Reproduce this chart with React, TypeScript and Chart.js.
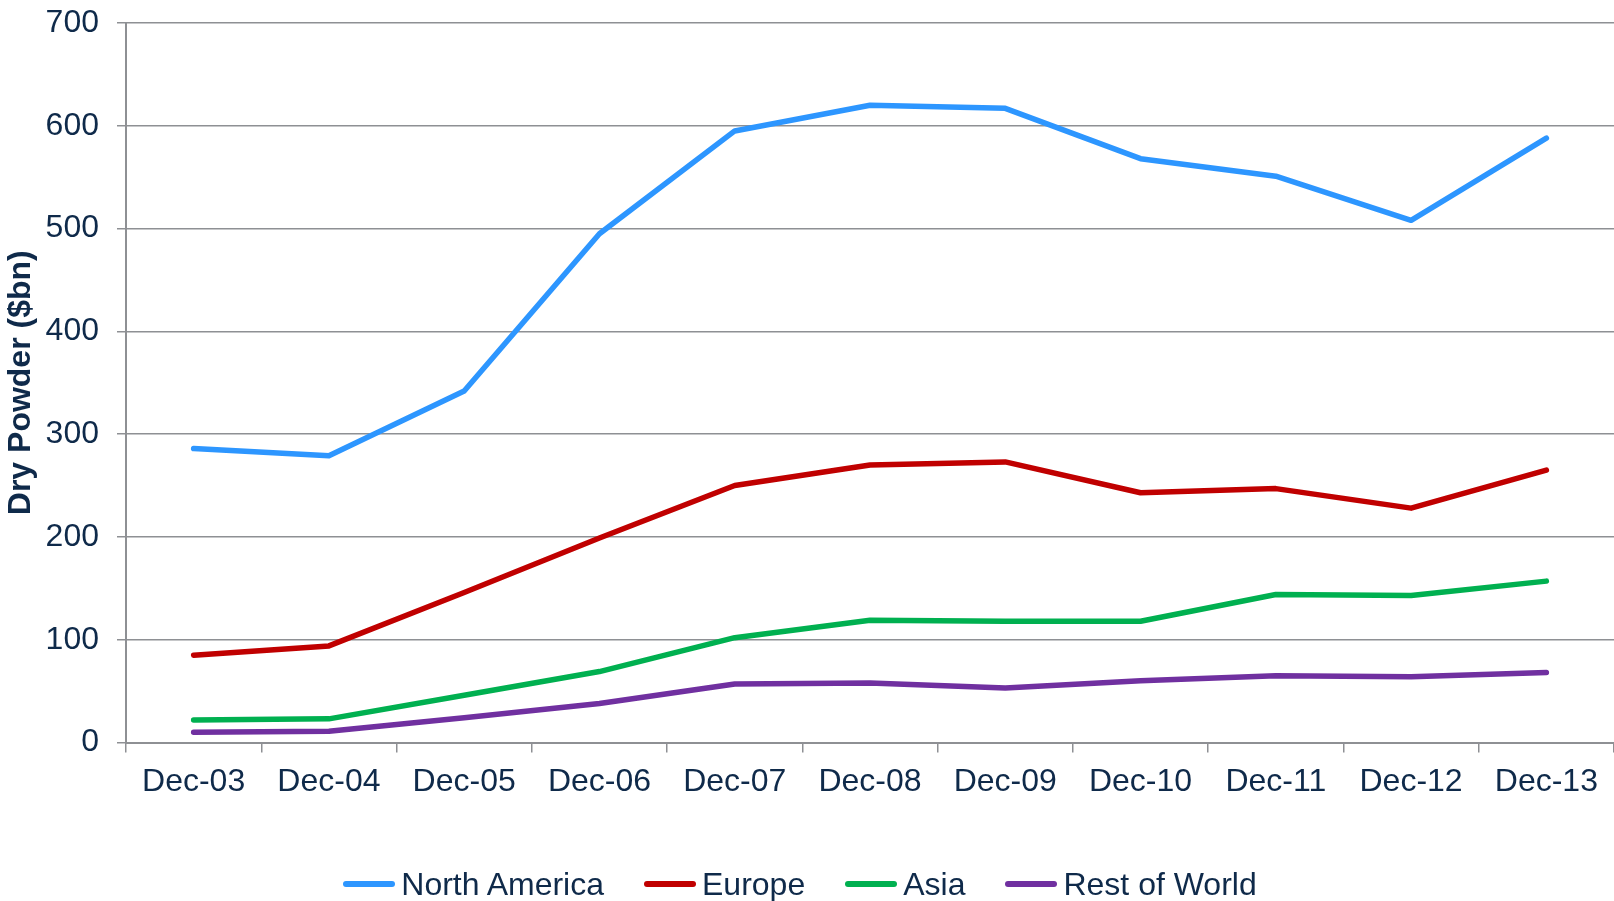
import React, { useEffect, useRef } from 'react';
import { Chart, registerables } from 'chart.js';

Chart.register(...registerables);

// Year-end dry powder by region, $bn
const periods = ['Dec-03', 'Dec-04', 'Dec-05', 'Dec-06', 'Dec-07', 'Dec-08', 'Dec-09', 'Dec-10', 'Dec-11', 'Dec-12', 'Dec-13'];
const northAmerica = [286, 279, 342, 495, 595, 620, 617, 568, 551, 508, 588];
const europe = [85, 94, 146, 199, 250, 270, 273, 243, 247, 228, 265];
const asia = [22, 23, 46, 69, 102, 119, 118, 118, 144, 143, 157];
const restOfWorld = [10, 11, 24, 38, 57, 58, 53, 60, 65, 64, 68];

const seriesNames = ['North America', 'Europe', 'Asia', 'Rest of World'];
const seriesColors = ['#2D96FF', '#C00000', '#00B050', '#7030A0'];

const yTicks = [0, 100, 200, 300, 400, 500, 600, 700];

const NAVY = '#0f2a4a';
const GRID = '#8e9094';
const FONT = "'Liberation Sans', Arial, sans-serif";

export default function App() {
  const canvasRef = useRef<HTMLCanvasElement | null>(null);

  useEffect(() => {
    const canvas = canvasRef.current;
    if (!canvas) return;
    const values = [northAmerica, europe, asia, restOfWorld];
    const chart = new Chart(canvas, {
      type: 'line',
      data: {
        labels: periods,
        datasets: values.map((data, i) => ({
          label: seriesNames[i],
          data,
          borderColor: seriesColors[i],
          backgroundColor: seriesColors[i],
          borderWidth: 5.5,
          borderCapStyle: 'round',
          borderJoinStyle: 'round',
          pointRadius: 0,
          pointHoverRadius: 0,
          tension: 0,
          fill: false,
        })),
      },
      options: {
        responsive: false,
        animation: false,
        devicePixelRatio: 1,
        layout: { padding: { top: 23, left: 0, right: 0, bottom: 0 } },
        plugins: {
          legend: { display: false },
          tooltip: { enabled: false },
        },
        scales: {
          x: {
            type: 'category',
            offset: true,
            grid: {
              display: true,
              drawOnChartArea: false,
              drawTicks: true,
              tickLength: 10,
              color: GRID,
              lineWidth: 1.5,
              offset: true,
            },
            border: { display: true, color: GRID, width: 2 },
            ticks: {
              color: NAVY,
              font: { family: FONT, size: 32 },
              padding: 10,
              maxRotation: 0,
              autoSkip: false,
            },
            afterFit: (scale: any) => {
              scale.height = 158.5;
              scale.paddingLeft = 0;
              scale.paddingRight = 0;
            },
          },
          y: {
            min: 0,
            max: 700,
            afterBuildTicks: (scale: any) => {
              scale.ticks = yTicks.map((v) => ({ value: v }));
            },
            grid: {
              color: GRID,
              lineWidth: 1.5,
              tickLength: 9,
            },
            border: { display: true, color: GRID, width: 2 },
            ticks: {
              color: NAVY,
              font: { family: FONT, size: 32 },
              padding: 18,
            },
            title: {
              display: true,
              text: 'Dry Powder ($bn)',
              color: NAVY,
              font: { family: FONT, size: 32, weight: 'bold' },
              padding: { top: 2, bottom: 0 },
            },
            afterFit: (scale: any) => {
              scale.width = 126;
              scale.paddingTop = 0;
              scale.paddingBottom = 0;
            },
          },
        },
      },
    });
    return () => chart.destroy();
  }, []);

  return (
    <div
      style={{
        position: 'fixed',
        left: 0,
        top: 0,
        width: 1614,
        height: 901,
        background: '#ffffff',
        overflow: 'hidden',
      }}
    >
      <canvas ref={canvasRef} width={1614} height={901} style={{ display: 'block' }} />
      <div
        style={{
          position: 'absolute',
          left: 0,
          top: 866,
          width: 1600,
          display: 'flex',
          justifyContent: 'center',
          alignItems: 'center',
          fontFamily: FONT,
          fontSize: 32,
          lineHeight: '36px',
          color: NAVY,
          whiteSpace: 'nowrap',
        }}
      >
        {seriesNames.map((name, i) => (
          <div
            key={name}
            style={{
              display: 'flex',
              alignItems: 'center',
              marginLeft: i === 0 ? 0 : 40,
            }}
          >
            <span
              style={{
                display: 'inline-block',
                width: 52,
                height: 6,
                borderRadius: 3,
                background: seriesColors[i],
                marginRight: 6,
              }}
            />
            <span>{name}</span>
          </div>
        ))}
      </div>
    </div>
  );
}
